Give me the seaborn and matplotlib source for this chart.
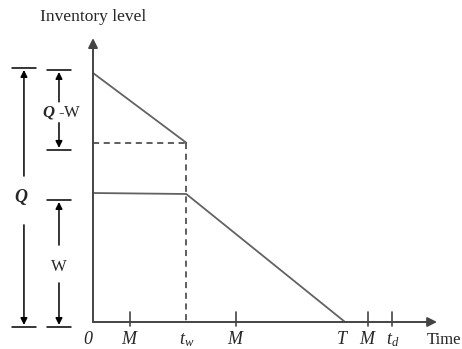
import numpy as np
import pandas as pd
import matplotlib
matplotlib.use("Agg")
import matplotlib.pyplot as plt
import seaborn as sns

# Model quantities (arbitrary time / level units)
Q = 10.0          # order quantity
W = 5.18          # own-warehouse capacity
Q_TW = 7.2        # level of the rented warehouse stock at t_w
W_TW = 5.14       # own-warehouse level at t_w
T_W = 3.7         # time when rented warehouse is emptied
T_END = 10.0      # cycle length T
M_MARKS = [1.47, 5.67, 10.92]
T_D = 11.87

# line series
top_time = [0, T_W]
top_level = [Q, Q_TW]
low_time = [0, T_W, T_END]
low_level = [W, W_TW, 0]
dash_h_time = [0, T_W]
dash_h_level = [Q_TW, Q_TW]
dash_v_time = [T_W, T_W]
dash_v_level = [Q_TW, 0]

tick_labels = ["$0$", "$M$", "$t_w$", "$M$", "$T$", "$M$", "$t_d$"]
tick_pos = [0, M_MARKS[0], T_W, M_MARKS[1], T_END, M_MARKS[2], T_D]

sns.set_theme(style="white")
plt.rcParams["font.family"] = ["Liberation Serif", "DejaVu Serif"]
plt.rcParams["mathtext.fontset"] = "custom"
plt.rcParams["mathtext.rm"] = "Liberation Serif"
plt.rcParams["mathtext.it"] = "Liberation Serif:italic"
plt.rcParams["mathtext.bfit"] = "Liberation Serif:italic:bold"

fig = plt.figure(figsize=(4.62, 3.49), dpi=100)
ax = fig.add_axes([0, 0, 1, 1])
ax.set_xlim(-3.69, 14.64)
ax.set_ylim(-1.084, 12.93)
ax.axis("off")

line_col = "#626262"
sns.lineplot(x=top_time, y=top_level, color=line_col, lw=1.3, ax=ax,
             estimator=None, sort=False)
sns.lineplot(x=low_time, y=low_level, color=line_col, lw=1.3, ax=ax,
             estimator=None, sort=False)
sns.lineplot(x=dash_h_time, y=dash_h_level, color="#333333", lw=1.1,
             linestyle=(0, (4, 3)), ax=ax, estimator=None, sort=False)
sns.lineplot(x=dash_v_time, y=dash_v_level, color="#333333", lw=1.1,
             linestyle=(0, (4, 3)), ax=ax, estimator=None, sort=False)

# axes with arrow heads
arr = dict(arrowstyle="-|>", color="#444444", lw=1.4, mutation_scale=14,
           shrinkA=0, shrinkB=0)
ax.annotate("", xy=(0, 11.4), xytext=(0, 0), arrowprops=arr)
ax.annotate("", xy=(13.65, 0), xytext=(0, 0), arrowprops=arr)

# small ticks on time axis
for p in M_MARKS + [T_D]:
    ax.plot([p, p], [-0.18, 0.4], color="#444444", lw=1.2)

for lab, p in zip(tick_labels, tick_pos):
    if lab == "$0$":
        ax.text(p - 0.2, -0.72, "0", ha="center", va="center", fontsize=13,
                style="italic")
        continue
    dx = -0.1 if lab == "$T$" else 0
    ax.text(p + dx, -0.72, lab, ha="center", va="center", fontsize=13)
ax.text(14.62, -0.72, "Time", ha="right", va="center", fontsize=12)
ax.text(0, 12.25, "Inventory level", ha="center", va="center", fontsize=12.5)

# dimension brackets
def bracket(x, top, bottom, hw, up_from, down_from):
    ax.plot([x - hw, x + hw], [top, top], color="black", lw=1.1)
    ax.plot([x - hw, x + hw], [bottom, bottom], color="black", lw=1.1)
    a = dict(arrowstyle="-|>", color="black", lw=1.1, mutation_scale=10,
             shrinkA=0, shrinkB=0)
    ax.annotate("", xy=(x, top - 0.08), xytext=(x, up_from), arrowprops=a)
    ax.annotate("", xy=(x, bottom + 0.08), xytext=(x, down_from), arrowprops=a)

bracket(-2.74, Q + 0.2, -0.2, 0.46, 5.86, 3.9)
ax.text(-2.86, 4.98, "Q", ha="center", va="center", fontsize=13,
        style="italic", fontweight="bold")
bracket(-1.35, Q + 0.12, Q_TW - 0.29, 0.48, 8.84, 8.0)
ax.text(-1.23, 8.42, r"$\mathbfit{Q}$ -W", ha="center", va="center",
        fontsize=12)
bracket(-1.35, W - 0.28, -0.2, 0.48, 3.09, 1.57)
ax.text(-1.35, 2.21, "W", ha="center", va="center", fontsize=12)

fig.savefig("out.png", dpi=100)
